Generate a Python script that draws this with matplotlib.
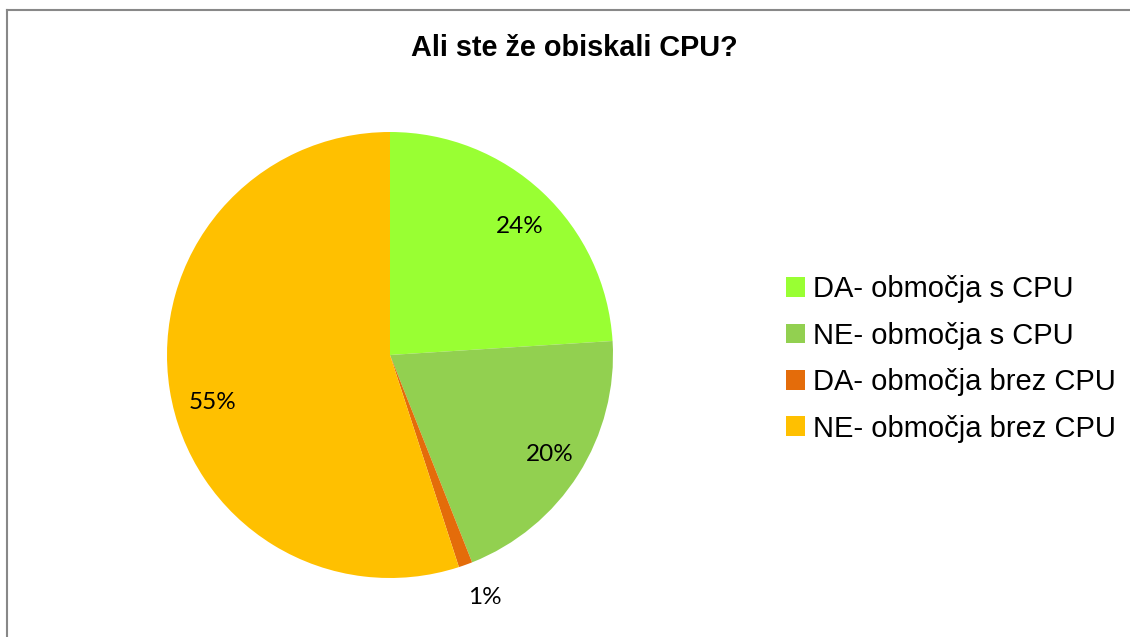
import numpy as np
import matplotlib
matplotlib.use('Agg')
import matplotlib.pyplot as plt
from matplotlib.lines import Line2D

# Data
categories = ['DA- območja s CPU', 'NE- območja s CPU',
              'DA- območja brez CPU', 'NE- območja brez CPU']
values = [24, 20, 1, 55]
colors = ['#99FF33', '#92D050', '#E46C0A', '#FFC000']
label_dist = [0.82, 0.846, 1.17, 0.822]
label_shift = [-2.2, 0.4, 1.6, 6.0]  # degrees, nudges like Excel's best-fit

W, H = 1130, 637
fig = plt.figure(figsize=(W / 100, H / 100), dpi=100)

# Pie axes (centre ~ (390, 355) px, radius ~223 px)
cx, cy, r = 390, 355, 223
ax = fig.add_axes([(cx - r) / W, (H - cy - r) / H, 2 * r / W, 2 * r / H])
wedges, _ = ax.pie(values, colors=colors, startangle=90, counterclock=False,
                   radius=1, wedgeprops=dict(linewidth=0))
ax.set_xlim(-1, 1)
ax.set_ylim(-1, 1)
ax.set_aspect('auto')
ax.axis('off')

# Percentage labels
for w, v, d, s in zip(wedges, values, label_dist, label_shift):
    ang = np.deg2rad((w.theta1 + w.theta2) / 2 + s)
    ax.text(d * np.cos(ang), d * np.sin(ang), f'{v}%', ha='center', va='center',
            fontsize=17.5, family=['Lato', 'DejaVu Sans'], color='black')

# Title
fig.text(574 / W, 1 - 48 / H, 'Ali ste že obiskali CPU?', ha='center', va='center',
         fontsize=20.8, fontweight='bold', family=['Liberation Sans', 'DejaVu Sans'])

# Legend
handles = [plt.Rectangle((0, 0), 1, 1, facecolor=c, edgecolor='none') for c in colors]
fig.legend(handles, categories, loc='center left', bbox_to_anchor=(786 / W, 1 - 359 / H),
           frameon=False, prop={'family': ['Liberation Sans', 'DejaVu Sans'], 'size': 21},
           handlelength=0.66, handleheight=0.66, handletextpad=0.25, labelspacing=0.63,
           borderpad=0, borderaxespad=0)

# Chart frame (top and left edges visible)
fig.add_artist(Line2D([7 / W, 7 / W], [0, 1 - 10 / H], transform=fig.transFigure,
                      color='#888888', linewidth=1.5))
fig.add_artist(Line2D([7 / W, 1], [1 - 10 / H, 1 - 10 / H], transform=fig.transFigure,
                      color='#888888', linewidth=1.5))

fig.savefig('out.png', dpi=100)
